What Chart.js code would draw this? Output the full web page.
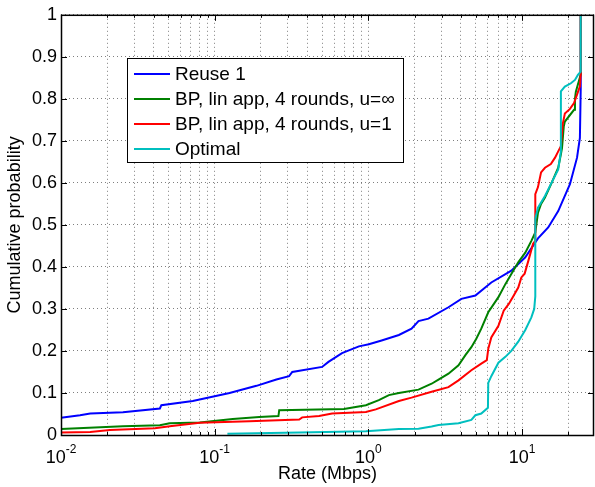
<!DOCTYPE html>
<html>
<head>
<meta charset="utf-8">
<script src="https://cdn.jsdelivr.net/npm/chart.js@4.4.0/dist/chart.umd.min.js"></script>
<style>
html, body { margin: 0; padding: 0; background: #fff; }
</style>
</head>
<body>
<canvas id="cdfChart" width="595" height="487"></canvas>
<script>
// ======================================
// Data
// ======================================
const seriesLabels = ['Reuse 1', 'BP, lin app, 4 rounds, u=\u221e', 'BP, lin app, 4 rounds, u=1', 'Optimal'];
const seriesColors = ['#0000ff', '#008000', '#ff0000', '#00bfbf'];

const reuseRate = [0.01, 0.0133, 0.0155, 0.0253, 0.044, 0.045, 0.072, 0.125, 0.187, 0.252, 0.305, 0.32, 0.50, 0.55, 0.674, 0.868, 1.007, 1.22, 1.58, 1.91, 2.12, 2.46, 3.32, 4.03, 4.97, 6.31, 8.52, 10.5, 12.7, 14.8, 17.2, 20.5, 22.8, 23.8, 24.1, 24.1];
const reuseProb = [0.041, 0.047, 0.051, 0.054, 0.063, 0.071, 0.081, 0.100, 0.117, 0.132, 0.140, 0.150, 0.162, 0.174, 0.195, 0.211, 0.216, 0.225, 0.238, 0.253, 0.271, 0.277, 0.304, 0.324, 0.332, 0.363, 0.391, 0.423, 0.468, 0.494, 0.533, 0.597, 0.660, 0.707, 0.825, 1.0];

const bpInfRate = [0.01, 0.0253, 0.044, 0.051, 0.08, 0.131, 0.195, 0.26, 0.263, 0.694, 0.964, 1.17, 1.36, 1.58, 2.12, 2.58, 2.86, 3.32, 3.86, 4.28, 4.68, 5.04, 5.43, 6.03, 7.02, 7.79, 8.52, 9.45, 10.5, 11.5, 12.2, 12.7, 13.3, 14.1, 15.4, 17.2, 17.9, 18.2, 18.7, 19.0, 21.8, 22.1, 22.4, 24.1, 24.1];
const bpInfProb = [0.014, 0.021, 0.023, 0.028, 0.030, 0.038, 0.043, 0.045, 0.059, 0.062, 0.071, 0.083, 0.095, 0.100, 0.108, 0.122, 0.132, 0.146, 0.166, 0.190, 0.209, 0.229, 0.253, 0.292, 0.328, 0.359, 0.383, 0.411, 0.434, 0.462, 0.482, 0.529, 0.550, 0.565, 0.596, 0.636, 0.668, 0.683, 0.735, 0.746, 0.774, 0.800, 0.817, 0.858, 1.0];

const bpOneRate = [0.01, 0.0155, 0.0208, 0.0408, 0.051, 0.08, 0.168, 0.355, 0.371, 0.478, 0.581, 0.964, 1.118, 1.58, 1.91, 2.58, 3.32, 3.86, 4.68, 5.43, 5.9, 6.03, 6.31, 7.02, 7.6, 8.2, 8.7, 9.45, 9.9, 10.4, 11.0, 11.8, 12.2, 12.2, 12.7, 13.3, 14.1, 15.4, 16.4, 17.2, 17.9, 18.4, 19.0, 20.5, 21.8, 22.8, 23.8, 24.1, 24.1];
const bpOneProb = [0.006, 0.007, 0.012, 0.016, 0.021, 0.029, 0.033, 0.037, 0.042, 0.045, 0.051, 0.055, 0.061, 0.081, 0.089, 0.103, 0.114, 0.130, 0.154, 0.170, 0.178, 0.205, 0.232, 0.260, 0.296, 0.312, 0.328, 0.351, 0.375, 0.384, 0.415, 0.455, 0.462, 0.573, 0.590, 0.625, 0.636, 0.645, 0.660, 0.675, 0.687, 0.740, 0.765, 0.776, 0.790, 0.810, 0.830, 0.860, 1.0];

const optRate = [0.121, 0.355, 0.964, 1.58, 2.12, 2.58, 2.86, 3.86, 4.68, 4.97, 5.43, 6.0, 6.03, 6.31, 7.02, 7.79, 8.52, 9.45, 10.5, 11.5, 12.0, 12.2, 12.2, 12.7, 14.1, 15.4, 17.2, 17.9, 17.9, 19.0, 20.8, 22.1, 23.1, 24.1, 24.1];
const optProb = [0.003, 0.006, 0.009, 0.014, 0.015, 0.020, 0.024, 0.028, 0.036, 0.047, 0.051, 0.065, 0.124, 0.140, 0.172, 0.186, 0.200, 0.222, 0.250, 0.280, 0.300, 0.330, 0.515, 0.541, 0.569, 0.597, 0.632, 0.675, 0.818, 0.829, 0.837, 0.845, 0.857, 0.865, 1.0];

// ticks
const xGridTicks = [0.01, 0.02, 0.03, 0.04, 0.05, 0.06, 0.07, 0.08, 0.09,
                    0.1, 0.2, 0.3, 0.4, 0.5, 0.6, 0.7, 0.8, 0.9,
                    1, 2, 3, 4, 5, 6, 7, 8, 9,
                    10, 20];
const xMajorTicks = [0.01, 0.1, 1, 10];
const xMajorExp = ['-2', '-1', '0', '1'];
const yTicks = [0, 0.1, 0.2, 0.3, 0.4, 0.5, 0.6, 0.7, 0.8, 0.9, 1];
const yTickLabels = ['0', '0.1', '0.2', '0.3', '0.4', '0.5', '0.6', '0.7', '0.8', '0.9', '1'];

const FONT = "'Liberation Sans', Arial, Helvetica, sans-serif";

function toPoints(xs, ys) {
    return xs.map((x, i) => ({ x: x, y: ys[i] }));
}

// ======================================
// Matlab style box, ticks, x labels, legend
// ======================================
const matlabAxes = {
    id: 'matlabAxes',
    afterDraw(chart) {
        const ctx = chart.ctx;
        const a = chart.chartArea;
        const xs = chart.scales.x;
        const ys = chart.scales.y;
        ctx.save();

        // inward ticks
        ctx.strokeStyle = '#000';
        ctx.lineWidth = 1;
        ctx.beginPath();
        xGridTicks.forEach(v => {
            const px = Math.round(xs.getPixelForValue(v)) + 0.5;
            const len = xMajorTicks.includes(v) ? 6 : 3;
            ctx.moveTo(px, a.bottom); ctx.lineTo(px, a.bottom - len);
            ctx.moveTo(px, a.top); ctx.lineTo(px, a.top + len);
        });
        yTicks.forEach(v => {
            const py = Math.round(ys.getPixelForValue(v)) + 0.5;
            ctx.moveTo(a.left, py); ctx.lineTo(a.left + 6, py);
            ctx.moveTo(a.right, py); ctx.lineTo(a.right - 6, py);
        });
        ctx.stroke();

        // box
        ctx.lineWidth = 1.5;
        ctx.strokeRect(a.left + 0.5, a.top + 0.5, a.right - a.left - 1, a.bottom - a.top);

        // x tick labels 10^k
        ctx.fillStyle = '#000';
        ctx.textBaseline = 'alphabetic';
        ctx.textAlign = 'left';
        xMajorTicks.forEach((v, i) => {
            const px = xs.getPixelForValue(v);
            ctx.font = '18px ' + FONT;
            const wBase = ctx.measureText('10').width;
            ctx.font = '12px ' + FONT;
            const wExp = ctx.measureText(xMajorExp[i]).width;
            const x0 = px - (wBase + wExp) / 2;
            ctx.font = '18px ' + FONT;
            ctx.fillText('10', x0, 463);
            ctx.font = '12px ' + FONT;
            ctx.fillText(xMajorExp[i], x0 + wBase, 453);
        });

        // legend
        const lx = 127, ly = 58, lw = 276, lh = 104;
        ctx.fillStyle = '#fff';
        ctx.fillRect(lx, ly, lw, lh);
        ctx.strokeStyle = '#000';
        ctx.lineWidth = 1;
        ctx.strokeRect(lx + 0.5, ly + 0.5, lw, lh);
        ctx.font = '19px ' + FONT;
        ctx.textBaseline = 'middle';
        chart.data.datasets.forEach((ds, i) => {
            const cy = ly + 16 + i * 25;
            ctx.strokeStyle = ds.borderColor;
            ctx.lineWidth = 2;
            ctx.beginPath();
            ctx.moveTo(lx + 7, cy);
            ctx.lineTo(lx + 43, cy);
            ctx.stroke();
            ctx.fillStyle = '#000';
            ctx.fillText(ds.label, lx + 48, cy + 1);
        });
        ctx.restore();
    }
};

// ======================================
// Chart
// ======================================
const gridStyle = { color: 'rgba(0,0,0,0.5)', lineWidth: 1, drawTicks: false };
const gridBorder = { display: false, dash: [1, 3] };

const chart = new Chart(document.getElementById('cdfChart').getContext('2d'), {
    type: 'line',
    data: {
        datasets: [
            { label: seriesLabels[0], data: toPoints(reuseRate, reuseProb), borderColor: seriesColors[0], order: 4 },
            { label: seriesLabels[1], data: toPoints(bpInfRate, bpInfProb), borderColor: seriesColors[1], order: 3 },
            { label: seriesLabels[2], data: toPoints(bpOneRate, bpOneProb), borderColor: seriesColors[2], order: 2 },
            { label: seriesLabels[3], data: toPoints(optRate, optProb), borderColor: seriesColors[3], order: 1 }
        ]
    },
    options: {
        responsive: false,
        animation: false,
        devicePixelRatio: 1,
        layout: { padding: { top: 13, right: 1, left: 0, bottom: 0 } },
        elements: {
            line: { borderWidth: 2, tension: 0, fill: false },
            point: { radius: 0, hoverRadius: 0 }
        },
        plugins: { legend: { display: false }, tooltip: { enabled: false } },
        scales: {
            x: {
                type: 'logarithmic',
                min: 0.01,
                max: 29.4,
                grid: gridStyle,
                border: gridBorder,
                ticks: { display: false },
                afterBuildTicks: (s) => { s.ticks = xGridTicks.map(v => ({ value: v })); },
                afterFit: (s) => { s.height = 52; },
                title: {
                    display: true, text: 'Rate (Mbps)', color: '#000',
                    font: { family: FONT, size: 18 }, padding: { top: 0, bottom: 2 }
                }
            },
            y: {
                type: 'linear',
                min: 0,
                max: 1,
                grid: gridStyle,
                border: gridBorder,
                afterBuildTicks: (s) => { s.ticks = yTicks.map(v => ({ value: v })); },
                ticks: {
                    color: '#000', padding: 4,
                    font: { family: FONT, size: 18 },
                    callback: (v) => yTickLabels[yTicks.indexOf(Math.round(v * 10) / 10)]
                },
                afterFit: (s) => { s.width = 61; },
                title: {
                    display: true, text: 'Cumulative probability', color: '#000',
                    font: { family: FONT, size: 18 }, padding: { top: 4, bottom: 0 }
                }
            }
        }
    },
    plugins: [matlabAxes]
});
</script>
</body>
</html>
